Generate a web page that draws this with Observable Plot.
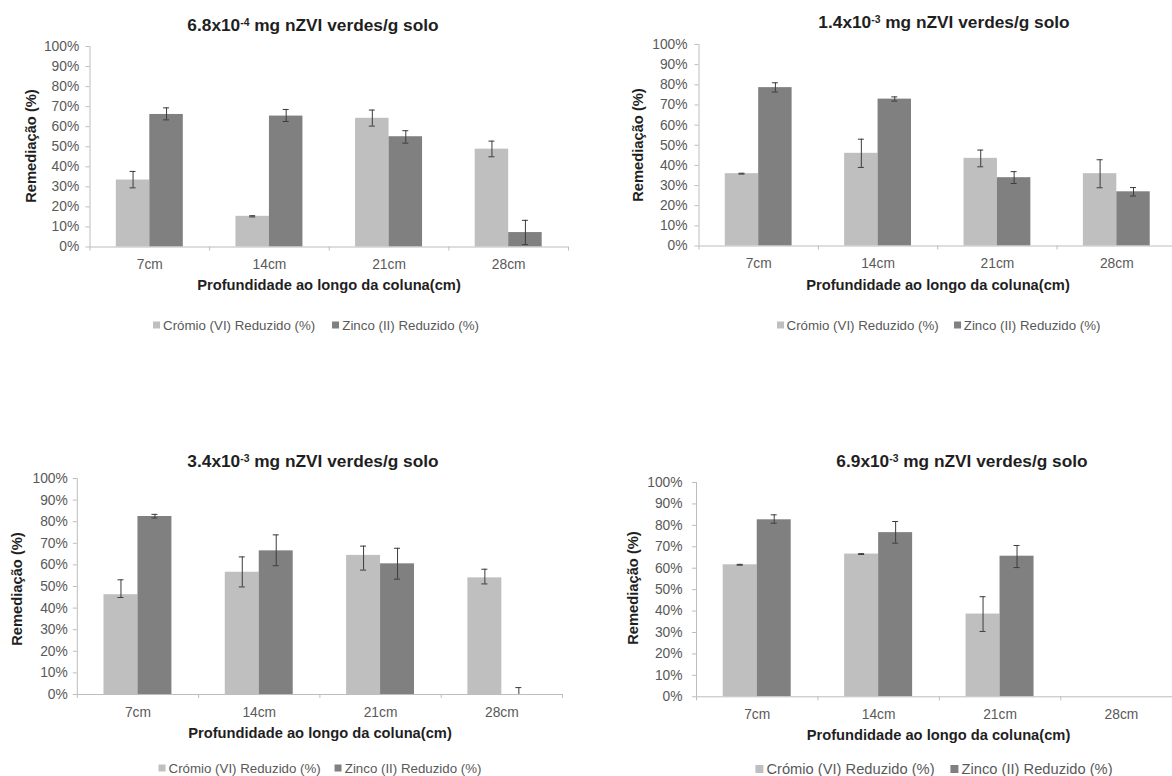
<!DOCTYPE html>
<html>
<head>
<meta charset="utf-8">
<script src="https://cdn.jsdelivr.net/npm/d3@7"></script>
<script src="https://cdn.jsdelivr.net/npm/@observablehq/plot@0.6"></script>
<style>
html, body { margin: 0; padding: 0; background: #fff; }
#page { position: relative; width: 1172px; height: 776px; overflow: hidden; font-family: "Liberation Sans", Arial, sans-serif; }
.abs { position: absolute; white-space: nowrap; line-height: 1; transform: translate(-50%, -50%); }
.title { font-weight: bold; font-size: 17.3px; color: #1f1f1f; }
.title sup { font-size: 0.6em; vertical-align: 0.55em; line-height: 0; }
.axt { font-weight: bold; font-size: 14.7px; color: #1f1f1f; }
.ylab { transform: translate(-50%, -50%) rotate(-90deg); }
.lg { position: absolute; transform: translate(-50%, -50%); white-space: nowrap; }
.lg > div { margin: 0 !important; min-height: 0 !important; flex-wrap: nowrap !important; font-family: "Liberation Sans", Arial, sans-serif !important; color: #595959 !important; }
.lg span[class$="-swatch"] > svg { margin-right: 3px !important; }
.lg span[class$="-swatch"]:last-of-type { margin-right: 0 !important; }
.plotbox { position: absolute; }
.plotbox svg { display: block; max-width: none !important; }
</style>
</head>
<body>
<div id="page"></div>
<script>
// ---------- data ----------
const depths = ["7cm", "14cm", "21cm", "28cm"];
const seriesNames = ["Crómio (VI) Reduzido (%)", "Zinco (II) Reduzido (%)"];
const yTicks = [0, 10, 20, 30, 40, 50, 60, 70, 80, 90, 100];
const titleMantissa = ["6.8", "1.4", "3.4", "6.9"];
const titleExponent = ["-4", "-3", "-3", "-3"];
const yLabel = "Remediação (%)";
const xLabel = "Profundidade ao longo da coluna(cm)";

// panel 1: 6.8x10-4
const p1Cr   = [33.4, 15.3, 64.2, 48.8];
const p1CrLo = [29.5, 15.0, 60.3, 45.0];
const p1CrHi = [37.7, 15.6, 68.3, 52.8];
const p1Zn   = [66.1, 65.3, 55.0, 7.2];
const p1ZnLo = [63.4, 62.6, 51.8, 1.2];
const p1ZnHi = [69.4, 68.6, 58.0, 13.3];

// panel 2: 1.4x10-3
const p2Cr   = [35.9, 46.0, 43.5, 35.9];
const p2CrLo = [35.7, 39.0, 39.3, 28.9];
const p2CrHi = [36.1, 53.0, 47.6, 42.8];
const p2Zn   = [78.6, 72.9, 33.9, 26.9];
const p2ZnLo = [76.4, 71.9, 31.0, 24.8];
const p2ZnHi = [81.0, 74.0, 36.9, 29.0];

// panel 3: 3.4x10-3
const p3Cr   = [46.2, 56.6, 64.4, 54.0];
const p3CrLo = [44.9, 49.8, 57.6, 51.2];
const p3CrHi = [53.1, 63.7, 68.7, 58.0];
const p3Zn   = [82.4, 66.5, 60.5, 0];
const p3ZnLo = [81.7, 59.6, 53.4, 0];
const p3ZnHi = [83.4, 73.9, 67.7, 3.2];

// panel 4: 6.9x10-3
const p4Cr   = [61.6, 66.6, 38.6, null];
const p4CrLo = [61.4, 66.4, 30.5, null];
const p4CrHi = [61.8, 66.8, 46.7, null];
const p4Zn   = [82.6, 76.6, 65.6, null];
const p4ZnLo = [81.0, 71.7, 60.3, null];
const p4ZnHi = [84.9, 81.8, 70.6, null];

const panelData = [
  [[p1Cr, p1CrLo, p1CrHi], [p1Zn, p1ZnLo, p1ZnHi]],
  [[p2Cr, p2CrLo, p2CrHi], [p2Zn, p2ZnLo, p2ZnHi]],
  [[p3Cr, p3CrLo, p3CrHi], [p3Zn, p3ZnLo, p3ZnHi]],
  [[p4Cr, p4CrLo, p4CrHi], [p4Zn, p4ZnLo, p4ZnHi]]
];

// ---------- styles / layout ----------
const FONT = '"Liberation Sans", Arial, sans-serif';
const barColors = ["#bfbfbf", "#808080"];
const axisColor = "#bdbdbd";
const textColor = "#595959";
const errColor = "#3c3c3c";

const layout = [
  {svgLeft: 0,   axisL: 89.5,  axisR: 568,    y100: 46.2,  y0: 246.7, pad: 6.8,  titleX: 313,   titleY: 25.5,  ylabX: 31,    ylabY: 146,   xtX: 329,   xtY: 285.3, lgX: 316,   lgY: 324.5, lgFont: 13.3, sw: 7, gap: 17},
  {svgLeft: 586, axisL: 698.5, axisR: 1176,   y100: 44.3,  y0: 245.8, pad: 7.5,  titleX: 944,   titleY: 23.3,  ylabX: 638.3, ylabY: 145,   xtX: 938,   xtY: 284.5, lgX: 938.5, lgY: 325,   lgFont: 13.3, sw: 7, gap: 15},
  {svgLeft: 0,   axisL: 76.8,  axisR: 562,    y100: 478.3, y0: 694.3, pad: 5.5,  titleX: 313,   titleY: 461.7, ylabX: 17,    ylabY: 589,   xtX: 320,   xtY: 733,   lgX: 320,   lgY: 768.3, lgFont: 13.3, sw: 7, gap: 14},
  {svgLeft: 586, axisL: 696,   axisR: 1181.7, y100: 481.7, y0: 696,   pad: 10,   titleX: 962,   titleY: 461.7, ylabX: 632.7, ylabY: 588.3, xtX: 938.5, xtY: 735,   lgX: 934,   lgY: 769.3, lgFont: 14.7, sw: 8, gap: 16}
];

const page = document.getElementById("page");

function addText(cls, x, y, html) {
  const d = document.createElement("div");
  d.className = "abs " + cls;
  d.style.left = x + "px";
  d.style.top = y + "px";
  d.innerHTML = html;
  page.appendChild(d);
  return d;
}

layout.forEach((L, p) => {
  // build table from arrays
  const rows = [];
  panelData[p].forEach((arrs, s) => {
    const [vals, lo, hi] = arrs;
    depths.forEach((dep, i) => {
      if (vals[i] == null) return;
      rows.push({i, depth: dep, series: seriesNames[s], s, value: vals[i], lo: lo[i], hi: hi[i]});
    });
  });

  const barW = 0.28, groupStart = 0.22;
  const x1 = d => d.i + groupStart + barW * d.s;
  const x2 = d => d.i + groupStart + barW * (d.s + 1);
  const xc = d => d.i + groupStart + barW * (d.s + 0.5);
  const pxPerUnit = (L.axisR - L.axisL) / depths.length;
  const cap = 3 / pxPerUnit;

  const marginTop = 14, marginBottom = 32, marginRight = 2;
  const svgTop = L.y100 - marginTop;
  const height = (L.y0 - svgTop) + marginBottom;
  const width = (L.axisR - L.svgLeft) + marginRight;

  const chart = Plot.plot({
    width, height,
    marginLeft: L.axisL - L.svgLeft,
    marginRight, marginTop, marginBottom,
    style: {fontFamily: FONT, fontSize: "13.8px", color: textColor, background: "transparent", overflow: "visible"},
    x: {domain: [0, depths.length], label: null},
    y: {domain: [0, 100], label: null},
    color: {domain: seriesNames, range: barColors},
    marks: [
      Plot.rectY(rows, {x1, x2, y: "value", fill: "series"}),
      Plot.ruleX(rows, {x: xc, y1: "lo", y2: "hi", stroke: errColor, strokeWidth: 1}),
      Plot.ruleY(rows, {y: "hi", x1: d => xc(d) - cap, x2: d => xc(d) + cap, stroke: errColor, strokeWidth: 1}),
      Plot.ruleY(rows, {y: "lo", x1: d => xc(d) - cap, x2: d => xc(d) + cap, stroke: errColor, strokeWidth: 1}),
      Plot.ruleY([0], {stroke: axisColor}),
      Plot.ruleX([0], {stroke: axisColor}),
      Plot.axisY({ticks: yTicks, tickFormat: d => d + "%", tickSize: 4, tickPadding: L.pad, stroke: axisColor, fill: textColor, label: null}),
      Plot.axisX({ticks: depths.map((d, i) => i).concat([depths.length]), tickFormat: () => "", tickSize: 4, stroke: axisColor, label: null}),
      Plot.axisX({ticks: depths.map((d, i) => i + 0.5), tickFormat: d => depths[Math.floor(d)], tickSize: 0, tickPadding: 12.5, fill: textColor, label: null})
    ]
  });

  const box = document.createElement("div");
  box.className = "plotbox";
  box.style.left = L.svgLeft + "px";
  box.style.top = svgTop + "px";
  box.appendChild(chart);
  page.appendChild(box);

  // title
  addText("title", L.titleX, L.titleY, `${titleMantissa[p]}x10<sup>${titleExponent[p]}</sup> mg nZVI verdes/g solo`);
  // axis titles
  addText("axt ylab", L.ylabX, L.ylabY, yLabel);
  addText("axt", L.xtX, L.xtY, xLabel);

  // legend
  const leg = Plot.legend({
    color: {domain: seriesNames, range: barColors},
    legend: "swatches",
    swatchSize: L.sw,
    style: {fontSize: L.lgFont + "px", fontFamily: FONT, color: textColor}
  });
  const lw = document.createElement("div");
  lw.className = "lg";
  lw.style.left = L.lgX + "px";
  lw.style.top = L.lgY + "px";
  lw.appendChild(leg);
  page.appendChild(lw);
  lw.querySelectorAll('span[class$="-swatch"]').forEach((sp, k, all) => {
    sp.style.marginRight = (k < all.length - 1 ? L.gap : 0) + "px";
  });
});
</script>
</body>
</html>
